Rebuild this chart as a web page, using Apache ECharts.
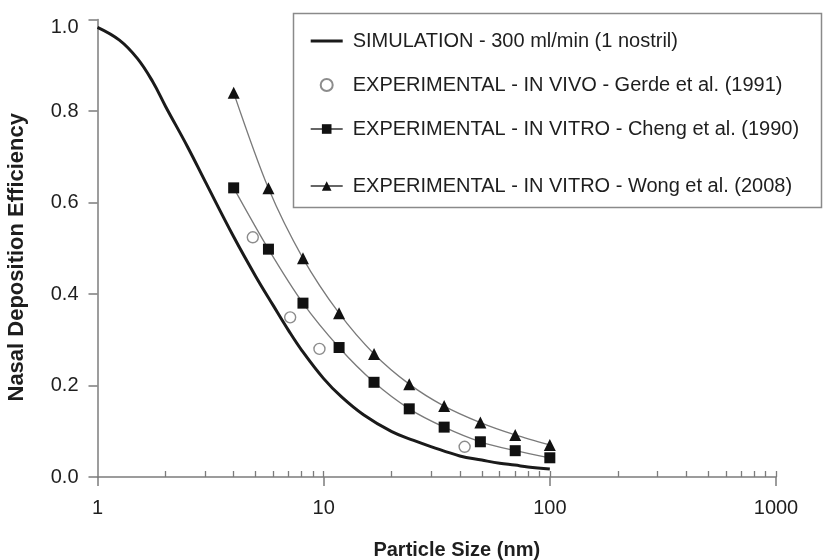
<!DOCTYPE html>
<html>
<head>
<meta charset="utf-8">
<script src="https://cdn.jsdelivr.net/npm/echarts@6.0.0/dist/echarts.min.js"></script>
<style>
  html, body { margin: 0; background: #fff; }
  #chart { width: 823px; height: 560px; }
</style>
</head>
<body>
<div id="chart"></div>
<script>
// simulation curve
const simX = [1, 1.25, 1.5, 1.75, 2, 2.5, 3, 4, 5, 6, 7, 8, 10, 12, 15, 20, 25, 30, 40, 50, 60, 70, 80, 100];
const simY = [0.983, 0.955, 0.915, 0.865, 0.81, 0.722, 0.645, 0.525, 0.439, 0.374, 0.32, 0.277, 0.215, 0.175, 0.136, 0.099, 0.08, 0.066, 0.046, 0.037, 0.03, 0.026, 0.022, 0.0175];

const gerdeX = [4.86, 7.11, 9.58, 42];
const gerdeY = [0.524, 0.349, 0.280, 0.066];

const chengX = [4, 5.7, 8.1, 11.7, 16.7, 23.9, 34.1, 49.3, 70.3, 100];
const chengY = [0.632, 0.498, 0.380, 0.283, 0.207, 0.149, 0.109, 0.077, 0.0575, 0.042];

const wongX = [4, 5.7, 8.1, 11.7, 16.7, 23.9, 34.1, 49.3, 70.3, 100];
const wongY = [0.840, 0.631, 0.478, 0.358, 0.269, 0.203, 0.155, 0.119, 0.092, 0.070];

const majorTicks = [1, 10, 100, 1000];
const minorTicks = [2, 3, 4, 5, 6, 7, 8, 9, 10, 20, 30, 40, 50, 60, 70, 80, 90, 100,
                    200, 300, 400, 500, 600, 700, 800, 900, 1000];

const names = [
    'SIMULATION - 300 ml/min (1 nostril)',
    'EXPERIMENTAL - IN VIVO - Gerde et al. (1991)',
    'EXPERIMENTAL - IN VITRO - Cheng et al. (1990)',
    'EXPERIMENTAL - IN VITRO - Wong et al. (2008)'
];

const pairs = (xs, ys) => xs.map((x, i) => [x, ys[i]]);

const font = "'Liberation Sans', Arial, sans-serif";
const axisGray = '#7c7c7c';
const textDark = '#1e1e1e';

const legendBase = {
    orient: 'vertical',
    left: 310,
    padding: 0,
    itemWidth: 32,
    itemHeight: 12,
    itemGap: 24,
    selectedMode: false,
    textStyle: { fontFamily: font, fontSize: 20, lineHeight: 20, color: textDark, padding: [0, 0, 0, 5] }
};

const option = {
    backgroundColor: '#fff',
    animation: false,
    grid: { left: 97.5, right: 47, top: 19.5, bottom: 83, outerBoundsMode: 'none' },
    graphic: [{
        type: 'rect',
        z: 3,
        shape: { x: 293.5, y: 13.5, width: 528, height: 194 },
        style: { fill: '#fff', stroke: '#8a8a8a', lineWidth: 1.5 }
    }],
    legend: [
        Object.assign({}, legendBase, {
            top: 31,
            data: [
                { name: names[0], icon: 'path://M0 0h32v3h-32z', itemStyle: { color: '#1a1a1a' } },
                { name: names[1] },
                { name: names[2], lineStyle: { width: 1.4, color: '#333' } }
            ]
        }),
        Object.assign({}, legendBase, {
            top: 176,
            data: [{ name: names[3], lineStyle: { width: 1.4, color: '#333' } }]
        })
    ],
    xAxis: [
        {
            type: 'log',
            logBase: 10,
            min: 1,
            max: 1000,
            position: 'bottom',
            name: 'Particle Size (nm)',
            nameLocation: 'middle',
            nameGap: 63,
            nameTextStyle: { fontFamily: font, fontSize: 20, fontWeight: 'bold', color: textDark, padding: [0, 0, 0, 40] },
            axisLine: { show: true, lineStyle: { color: axisGray, width: 1.5 } },
            axisTick: { show: true, inside: false, length: 9, customValues: majorTicks, lineStyle: { color: axisGray, width: 1.5 } },
            axisLabel: {
                customValues: majorTicks, margin: 21, fontFamily: font, fontSize: 20, color: textDark,
                formatter: v => String(Math.round(v))
            },
            splitLine: { show: false },
            minorTick: { show: false }
        },
        {
            type: 'log',
            logBase: 10,
            min: 1,
            max: 1000,
            position: 'bottom',
            axisLine: { show: false },
            axisTick: { show: true, inside: true, length: 6, customValues: minorTicks, lineStyle: { color: axisGray, width: 1.3 } },
            axisLabel: { show: false },
            splitLine: { show: false }
        }
    ],
    yAxis: {
        type: 'value',
        min: 0,
        max: 1,
        interval: 0.2,
        name: 'Nasal Deposition Efficiency',
        nameLocation: 'middle',
        nameGap: 70,
        nameTextStyle: { fontFamily: font, fontSize: 22, fontWeight: 'bold', color: textDark, padding: [0, 18, 0, 0] },
        axisLine: { show: true, lineStyle: { color: axisGray, width: 1.5 } },
        axisTick: { show: true, inside: false, length: 9, lineStyle: { color: axisGray, width: 1.5 } },
        axisLabel: {
            margin: 19, fontFamily: font, fontSize: 20, color: textDark,
            formatter: v => v === 1 ? '{low|1.0}' : v.toFixed(1),
            rich: { low: { fontFamily: font, fontSize: 20, color: textDark, padding: [16, 0, 0, 0] } }
        },
        splitLine: { show: false }
    },
    series: [
        {
            name: names[0],
            type: 'line',
            data: pairs(simX, simY),
            smooth: 0.4,
            symbol: 'none',
            lineStyle: { color: '#1a1a1a', width: 3 },
            itemStyle: { color: '#1a1a1a' },
            z: 2
        },
        {
            name: names[1],
            type: 'scatter',
            data: pairs(gerdeX, gerdeY),
            symbol: 'circle',
            symbolSize: 11,
            itemStyle: { color: '#fff', borderColor: '#6f6f6f', borderWidth: 1.4 },
            z: 4
        },
        {
            name: names[2],
            type: 'line',
            data: pairs(chengX, chengY),
            smooth: 0.3,
            symbol: 'rect',
            symbolSize: 11,
            lineStyle: { color: '#7a7a7a', width: 1.3 },
            itemStyle: { color: '#111' },
            z: 3
        },
        {
            name: names[3],
            type: 'line',
            data: pairs(wongX, wongY),
            smooth: 0.3,
            symbol: 'triangle',
            symbolSize: 12,
            lineStyle: { color: '#7a7a7a', width: 1.3 },
            itemStyle: { color: '#111' },
            z: 3
        }
    ]
};

const chart = echarts.init(document.getElementById('chart'));
chart.setOption(option);
</script>
</body>
</html>
